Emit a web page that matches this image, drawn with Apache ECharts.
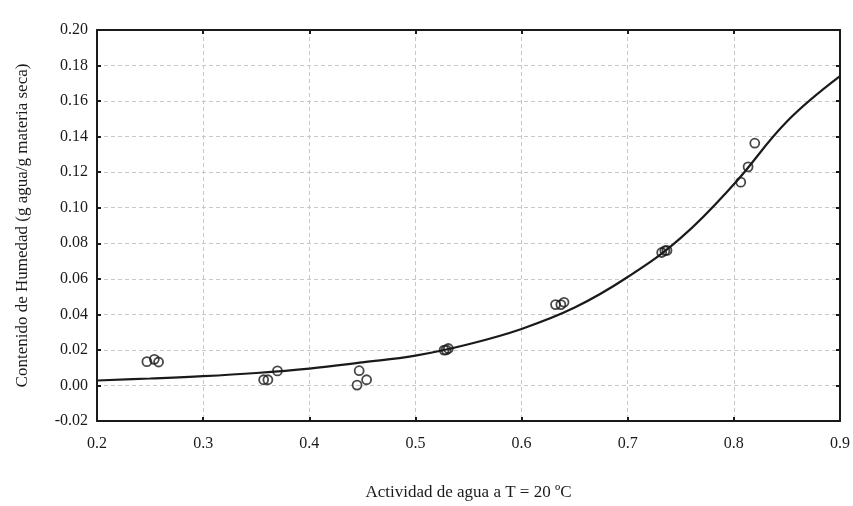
<!DOCTYPE html>
<html>
<head>
<meta charset="utf-8">
<script src="https://cdn.jsdelivr.net/npm/echarts@6/dist/echarts.min.js"></script>
<style>
  html, body { margin: 0; padding: 0; background: #fff; }
  #chart { width: 853px; height: 506px; }
</style>
</head>
<body>
<div id="chart"></div>
<script>
// measured points (water activity, moisture content)
var awPoints = [0.247, 0.254, 0.258, 0.357, 0.361, 0.370, 0.445, 0.447, 0.454, 0.527, 0.529, 0.531,
                0.632, 0.637, 0.640, 0.732, 0.735, 0.737, 0.8065, 0.8134, 0.8197];
var moisturePoints = [0.0134, 0.0147, 0.0132, 0.0032, 0.0032, 0.0082, 0.0002, 0.0083, 0.0032, 0.0199, 0.0200, 0.0208,
                      0.0455, 0.0455, 0.0468, 0.0748, 0.0758, 0.0760, 0.1144, 0.1230, 0.1363];

// fitted curve
var curveX = [0.20, 0.25, 0.30, 0.35, 0.40, 0.45, 0.50, 0.55, 0.60, 0.65, 0.70, 0.75, 0.80, 0.85, 0.90];
var curveY = [0.0028, 0.0039, 0.0052, 0.0070, 0.0095, 0.0130, 0.0168, 0.0232, 0.0318, 0.0438, 0.0610, 0.0830, 0.1132, 0.1485, 0.1740];

var xTicks = ['0.2', '0.3', '0.4', '0.5', '0.6', '0.7', '0.8', '0.9'];
var yTicks = ['-0.02', '0.00', '0.02', '0.04', '0.06', '0.08', '0.10', '0.12', '0.14', '0.16', '0.18', '0.20'];

var font = 'Liberation Serif';
var ink = '#1a1a1a';

var scatterData = awPoints.map(function (x, i) { return [x, moisturePoints[i]]; });
var curveData = curveX.map(function (x, i) { return [x, curveY[i]]; });

var chart = echarts.init(document.getElementById('chart'));

var gridLine = { show: true, lineStyle: { color: '#c8c8c8', type: [4, 3], width: 1 } };
var frameLine = { show: true, onZero: false, lineStyle: { color: ink, width: 2 } };
var innerTick = { show: true, inside: true, length: 4, lineStyle: { color: ink, width: 2 } };

chart.setOption({
  animation: false,
  backgroundColor: '#fff',
  grid: { left: 97, right: 12, top: 30, bottom: 81, containLabel: false },
  xAxis: [{
    type: 'value', min: 0.2, max: 0.9, interval: 0.1,
    name: 'Actividad de agua a T = 20 ºC', nameLocation: 'middle', nameGap: 63,
    nameTextStyle: { fontFamily: font, fontSize: 17, color: ink },
    axisLine: frameLine,
    axisTick: innerTick,
    axisLabel: { fontFamily: font, fontSize: 16, color: ink, margin: 15,
      formatter: function (v) { return xTicks[Math.round((v - 0.2) * 10)]; } },
    splitLine: gridLine
  }, {
    type: 'value', position: 'top', min: 0.2, max: 0.9, interval: 0.1,
    axisLine: frameLine, axisTick: innerTick,
    axisLabel: { show: false }, splitLine: { show: false }
  }],
  yAxis: [{
    type: 'value', min: -0.02, max: 0.2, interval: 0.02,
    name: 'Contenido de Humedad (g agua/g materia seca)', nameLocation: 'middle', nameGap: 66,
    nameTextStyle: { fontFamily: font, fontSize: 17, color: ink },
    axisLine: frameLine,
    axisTick: innerTick,
    axisLabel: { fontFamily: font, fontSize: 16, color: ink, margin: 9,
      formatter: function (v) { return yTicks[Math.round((v + 0.02) * 50)]; } },
    splitLine: gridLine
  }, {
    type: 'value', position: 'right', min: -0.02, max: 0.2, interval: 0.02,
    axisLine: frameLine, axisTick: innerTick,
    axisLabel: { show: false }, splitLine: { show: false }
  }],
  series: [{
    type: 'line', data: curveData, smooth: 0.4, symbol: 'none',
    lineStyle: { color: ink, width: 2.2 }, z: 2
  }, {
    type: 'scatter', data: scatterData, symbol: 'circle', symbolSize: 9,
    itemStyle: { color: 'rgba(255,255,255,0)', borderColor: ink, borderWidth: 1.8 }, z: 3
  }]
});
</script>
</body>
</html>
